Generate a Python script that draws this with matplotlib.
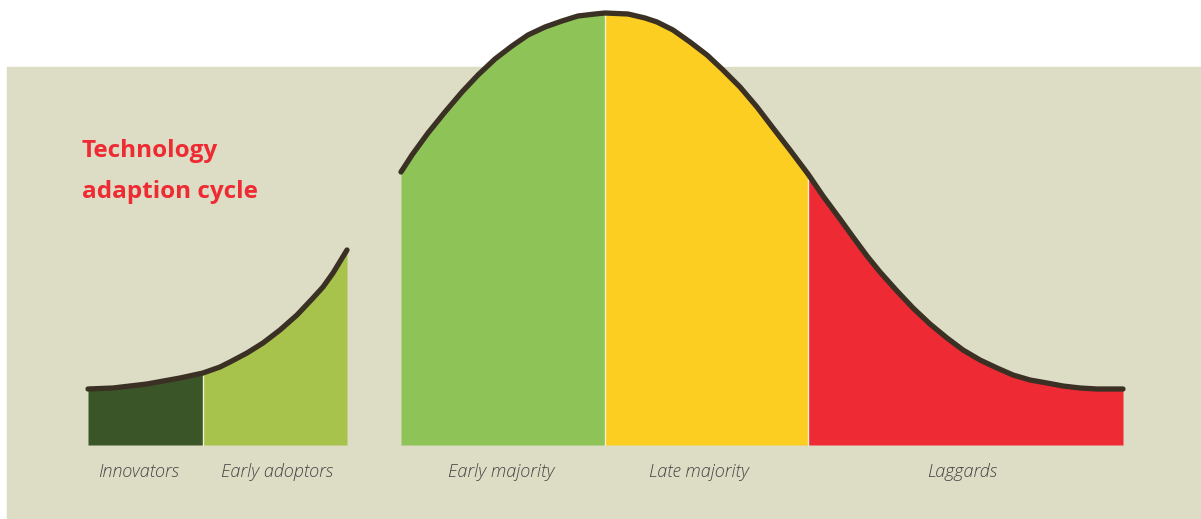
import matplotlib.pyplot as plt
from matplotlib.patches import Rectangle
import numpy as np

# curve (x, y in pixel units, y grows downward)
left_x = [88, 113, 147, 180, 203, 220, 230, 247, 263, 280, 297, 313, 323, 333, 347]
left_y = [389, 388, 384, 378, 373, 367, 362, 353, 343, 330, 315, 298, 287, 273, 250]

main_x = [401, 412, 428, 445, 462, 478, 495, 512, 528, 545, 562, 578, 595, 605, 628,
          645, 657, 673, 690, 707, 723, 740, 757, 773, 790, 808, 823, 840, 853, 867,
          880, 897, 913, 930, 947, 963, 980, 997, 1013, 1030, 1047, 1063, 1080, 1097, 1123]
main_y = [172, 155, 133, 112, 92, 75, 59, 46, 35, 27, 21, 16, 14, 13, 14,
          18, 22, 30, 42, 55, 70, 87, 107, 128, 150, 174, 196, 219, 237, 256,
          272, 291, 308, 324, 338, 350, 360, 368, 375, 380, 383, 386, 388, 389, 389]

baseline = 445

segments = ["Innovators", "Early adoptors", "Early majority", "Late majority", "Laggards"]
seg_bounds = [(88, 203), (203, 347), (401, 605), (605, 808), (808, 1123)]
seg_colors = ["#3a5628", "#a7c34b", "#8dc357", "#fdce22", "#ee2a35"]
label_x = [139, 277, 501, 699, 962]

title_lines = ["Technology", "adaption cycle"]

W, H = 1201, 519
fig = plt.figure(figsize=(W / 100, H / 100), dpi=100)
ax = fig.add_axes([0, 0, 1, 1])
ax.set_xlim(0, W)
ax.set_ylim(H, 0)
ax.axis("off")

# beige panel
ax.add_patch(Rectangle((7, 67), W - 7, H - 67, color="#dddcc5", zorder=0))

# fills per segment
for (x0, x1), col in zip(seg_bounds, seg_colors):
    if x1 <= 347:
        xs, ys = np.array(left_x), np.array(left_y)
    else:
        xs, ys = np.array(main_x), np.array(main_y)
    m = (xs >= x0) & (xs <= x1)
    ax.fill_between(xs[m], ys[m], baseline, color=col, lw=0, zorder=1)

# thin light separators
for sx, cx, cy in [(203, left_x, left_y), (605, main_x, main_y), (808, main_x, main_y)]:
    top = cy[cx.index(sx)]
    ax.plot([sx, sx], [baseline, top], color="#f3efd0", lw=1, zorder=2)

# curve
for cx, cy in [(left_x, left_y), (main_x, main_y)]:
    ax.plot(cx, cy, color="#3a3024", lw=3.8, solid_capstyle="round",
            solid_joinstyle="round", zorder=3)

for name, lx in zip(segments, label_x):
    ax.text(lx, 472, name, ha="center", va="center", fontsize=13,
            style="italic", fontweight="light", family="Open Sans", color="#454545")

for i, line in enumerate(title_lines):
    ax.text(82, 151 + 41 * i, line, ha="left", va="center", fontsize=17.5,
            fontweight="bold", family="Open Sans", color="#ee2a33")

fig.savefig("out.png", dpi=100)
